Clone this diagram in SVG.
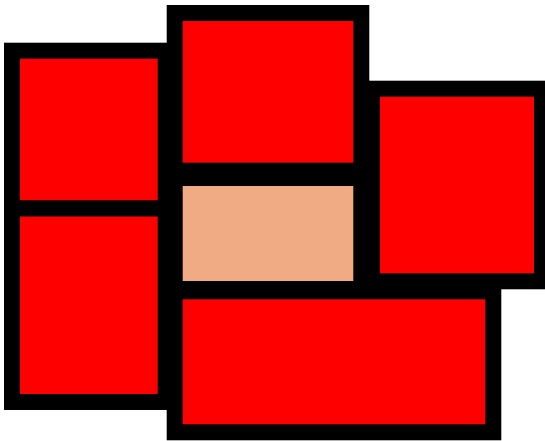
<svg xmlns="http://www.w3.org/2000/svg" width="545" height="441" viewBox="0 0 545 441">
<style>
.n{stroke:#000;stroke-width:16;fill:#ff0000}
.p{fill:#f0aa84}
</style>
<rect width="545" height="441" fill="#fff"/>
<g id="node-a"><rect class="n" x="12" y="50.7" width="153.7" height="157.8"/></g>
<g id="node-c"><rect class="n" x="12" y="208.5" width="153.7" height="193.5"/></g>
<g id="node-b"><rect class="n" x="174.7" y="13" width="186.6" height="157.7"/></g>
<g id="node-d"><rect class="n p" x="174.7" y="178" width="186.6" height="111"/></g>
<g id="node-f"><rect class="n" x="372" y="88.7" width="170" height="192.6"/></g>
<g id="node-e"><rect class="n" x="174.7" y="291.3" width="318.6" height="141"/></g>
<g id="connectors"></g>
</svg>
